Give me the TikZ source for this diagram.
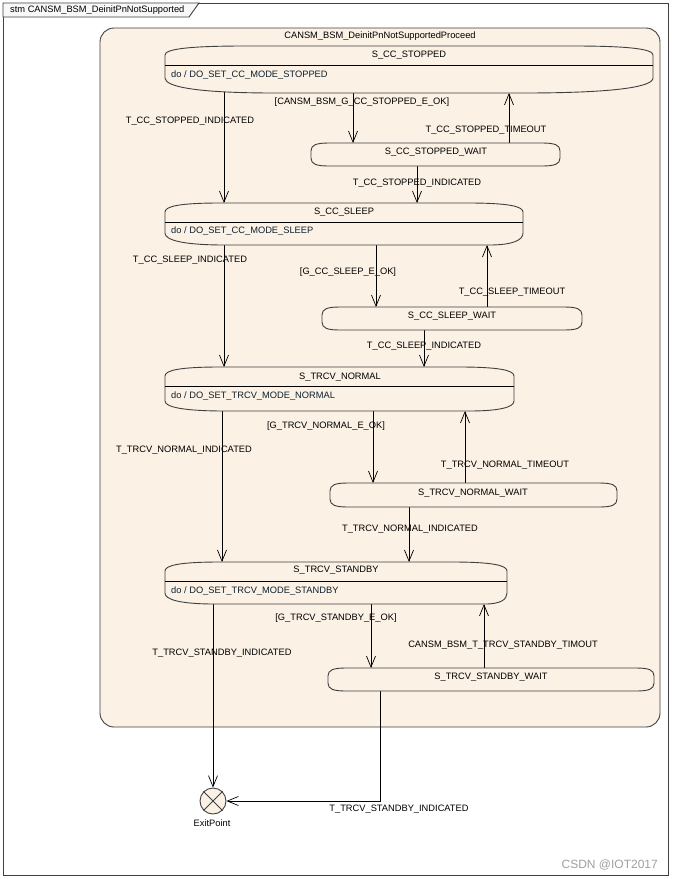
\documentclass[tikz,border=0pt]{standalone}
\usepackage{fontspec}
\setmainfont{Liberation Sans}
\usetikzlibrary{arrows.meta,calc}
\definecolor{compfill}{RGB}{251,241,228}
\definecolor{edgec}{RGB}{64,64,64}
\definecolor{dotext}{RGB}{12,32,48}
\definecolor{tabfill}{RGB}{248,248,248}
\definecolor{wmark}{RGB}{160,160,160}
\pgfdeclarelayer{back}\pgfdeclarelayer{mid}\pgfdeclarelayer{shapes}
\pgfsetlayers{back,mid,shapes,main}
\newcommand\dfont{\fontsize{9.3}{11}\selectfont}
\tikzset{
 lbl/.style={font=\dfont, inner sep=0pt, text=black},
 dolbl/.style={font=\dfont, inner sep=0pt, text=dotext, anchor=west},
 tr/.style={draw=black, line width=0.7pt, -{Straight Barb[length=11pt,width=9pt,line width=0.7pt]}},
 stnode/.style={inner sep=0pt, outer sep=0pt, draw=none, rectangle},
 stline/.style={draw=edgec, line width=0.9pt, fill=compfill},
 sepline/.style={draw=black, line width=0.7pt},
}
\newcommand\bigshape[5]{%
\begin{pgfonlayer}{shapes}
\path[stline] let \p1=(#1.north west), \p2=(#1.south east) in
 (\x1,\y1-9pt) .. controls (\x1,\y1-3pt) and (\x1+0.3*#2,\y1) .. (\x1+#2,\y1)
 -- (\x2-#2,\y1) .. controls (\x2-0.3*#2,\y1) and (\x2,\y1-3pt) .. (\x2,\y1-9pt)
 -- (\x2,\y2+#5) .. controls (\x2,\y2+0.4*#5) and (\x2-0.3*#4,\y2) .. (\x2-#4,\y2)
 -- (\x1+#3,\y2) .. controls (\x1+0.3*#3,\y2) and (\x1,\y2+0.4*#5) .. (\x1,\y2+#5) -- cycle;
\end{pgfonlayer}}
\newcommand\waitshape[1]{%
\begin{pgfonlayer}{shapes}
\path[stline] let \p1=(#1.north west), \p2=(#1.south east) in
 (\x1,\y1-8pt) .. controls (\x1,\y1-2pt) and (\x1+5pt,\y1) .. (\x1+18pt,\y1)
 -- (\x2-18pt,\y1) .. controls (\x2-5pt,\y1) and (\x2,\y1-2pt) .. (\x2,\y1-8pt)
 -- (\x2,\y2+8pt) .. controls (\x2,\y2+2pt) and (\x2-5pt,\y2) .. (\x2-18pt,\y2)
 -- (\x1+18pt,\y2) .. controls (\x1+5pt,\y2) and (\x1,\y2+2pt) .. (\x1,\y2+8pt) -- cycle;
\end{pgfonlayer}}
\begin{document}
\begin{tikzpicture}[x=1pt,y=-1pt]
\useasboundingbox (0,0) rectangle (673,879);
% frame, tab, composite
\begin{pgfonlayer}{back}
\fill[white] (0,0) rectangle (673,879);
\draw[edgec, line width=0.9pt] (3,3) rectangle (668,875);
\draw[edgec, line width=0.9pt, fill=tabfill] (3,3) -- (199,3) -- (189,17) -- (3,17) -- cycle;
\draw[edgec, line width=0.9pt, fill=compfill, rounded corners=14pt] (100,28) rectangle (660,727);
\end{pgfonlayer}
\node[lbl, anchor=west] (frametitle) at (10,10) {stm CANSM\_BSM\_DeinitPnNotSupported};
\node[lbl] (comptitle) at (380,36) {CANSM\_BSM\_DeinitPnNotSupportedProceed};
% state nodes
\node[stnode, minimum width=488pt, minimum height=47pt] (stopped) at (409,69.5) {};
\node[stnode, minimum width=358pt, minimum height=42pt] (sleep) at (344,224) {};
\node[stnode, minimum width=349pt, minimum height=44pt] (normal) at (339.5,389) {};
\node[stnode, minimum width=342pt, minimum height=42pt] (standby) at (336,583) {};
\node[stnode, minimum width=249pt, minimum height=23pt] (wstopped) at (435.5,154.5) {};
\node[stnode, minimum width=260pt, minimum height=23pt] (wsleep) at (452,318.5) {};
\node[stnode, minimum width=287pt, minimum height=24pt] (wnormal) at (473.5,495) {};
\node[stnode, minimum width=326pt, minimum height=23pt] (wstandby) at (491,679.5) {};
\node[circle, draw=edgec, line width=0.9pt, fill=compfill, minimum size=26pt, inner sep=0pt] (exit) at (213,801) {};
\draw[edgec, line width=0.8pt] (exit.north west) -- (exit.south east) (exit.north east) -- (exit.south west);
% shapes
\bigshape{stopped}{80pt}{110pt}{130pt}{15pt}
\bigshape{sleep}{55pt}{60pt}{34pt}{12pt}
\bigshape{normal}{55pt}{60pt}{45pt}{10pt}
\bigshape{standby}{55pt}{50pt}{22pt}{11pt}
\waitshape{wstopped}
\waitshape{wsleep}
\waitshape{wnormal}
\waitshape{wstandby}
% state texts
\node[lbl] (tstopped) at (409,55) {S\_CC\_STOPPED};
\draw[sepline] (stopped.west |- 0,65) -- (stopped.east |- 0,65);
\node[dolbl] (dstopped) at (171,75) {do / DO\_SET\_CC\_MODE\_STOPPED};
\node[lbl] (tsleep) at (344,212) {S\_CC\_SLEEP};
\draw[sepline] (sleep.west |- 0,222) -- (sleep.east |- 0,222);
\node[dolbl] (dsleep) at (171,231) {do / DO\_SET\_CC\_MODE\_SLEEP};
\node[lbl] (tnormal) at (340,377) {S\_TRCV\_NORMAL};
\draw[sepline] (normal.west |- 0,386) -- (normal.east |- 0,386);
\node[dolbl] (dnormal) at (171,396) {do / DO\_SET\_TRCV\_MODE\_NORMAL};
\node[lbl] (tstandby) at (336,570) {S\_TRCV\_STANDBY};
\draw[sepline] (standby.west |- 0,581) -- (standby.east |- 0,581);
\node[dolbl] (dstandby) at (171,591) {do / DO\_SET\_TRCV\_MODE\_STANDBY};
\node[lbl] (twstopped) at (436,152) {S\_CC\_STOPPED\_WAIT};
\node[lbl] (twsleep) at (452,316.5) {S\_CC\_SLEEP\_WAIT};
\node[lbl] (twnormal) at (473,493) {S\_TRCV\_NORMAL\_WAIT};
\node[lbl] (twstandby) at (491,677.5) {S\_TRCV\_STANDBY\_WAIT};
\node[lbl] (texit) at (212,823) {ExitPoint};
% x positions of connectors
\coordinate (c1) at (353,0);
\coordinate (c2) at (509,0);
\coordinate (c3) at (417,0);
\coordinate (c4) at (224,0);
\coordinate (c5) at (376,0);
\coordinate (c6) at (487,0);
\coordinate (c7) at (424,0);
\coordinate (c8) at (373,0);
\coordinate (c9) at (465,0);
\coordinate (c10) at (409,0);
\coordinate (c11) at (222,0);
\coordinate (c12) at (371,0);
\coordinate (c13) at (484,0);
\coordinate (c15) at (380,0);
\begin{pgfonlayer}{mid}
\draw[tr] (stopped.center -| c1) -- (wstopped.north -| c1);
\draw[tr] (wstopped.center -| c2) -- (stopped.south -| c2);
\draw[tr] (wstopped.center -| c3) -- (sleep.north -| c3);
\draw[tr] (stopped.center -| c4) -- (sleep.north -| c4);
\draw[tr] (sleep.center -| c5) -- (wsleep.north -| c5);
\draw[tr] (wsleep.center -| c6) -- (sleep.south -| c6);
\draw[tr] (wsleep.center -| c7) -- (normal.north -| c7);
\draw[tr] (sleep.center -| c4) -- (normal.north -| c4);
\draw[tr] (normal.center -| c8) -- (wnormal.north -| c8);
\draw[tr] (wnormal.center -| c9) -- (normal.south -| c9);
\draw[tr] (wnormal.center -| c10) -- (standby.north -| c10);
\draw[tr] (normal.center -| c11) -- (standby.north -| c11);
\draw[tr] (standby.center -| c12) -- (wstandby.north -| c12);
\draw[tr] (wstandby.center -| c13) -- (standby.south -| c13);
\draw[tr] (standby.center -| exit) -- (exit.north);
\draw[tr] (wstandby.center -| c15) |- (exit.east);
\end{pgfonlayer}
% connector labels
\node[lbl] (l1) at (362,102) {[CANSM\_BSM\_G\_CC\_STOPPED\_E\_OK]};
\node[lbl] (l2) at (486,130) {T\_CC\_STOPPED\_TIMEOUT};
\node[lbl] (l3) at (417,183) {T\_CC\_STOPPED\_INDICATED};
\node[lbl] (l4) at (190,121) {T\_CC\_STOPPED\_INDICATED};
\node[lbl] (l5) at (190,260) {T\_CC\_SLEEP\_INDICATED};
\node[lbl] (l6) at (348,272) {[G\_CC\_SLEEP\_E\_OK]};
\node[lbl] (l7) at (512,292) {T\_CC\_SLEEP\_TIMEOUT};
\node[lbl] (l8) at (424,346) {T\_CC\_SLEEP\_INDICATED};
\node[lbl] (l9) at (326,426) {[G\_TRCV\_NORMAL\_E\_OK]};
\node[lbl] (l10) at (184,450) {T\_TRCV\_NORMAL\_INDICATED};
\node[lbl] (l11) at (505,465) {T\_TRCV\_NORMAL\_TIMEOUT};
\node[lbl] (l12) at (410,529) {T\_TRCV\_NORMAL\_INDICATED};
\node[lbl] (l13) at (336,618) {[G\_TRCV\_STANDBY\_E\_OK]};
\node[lbl] (l14) at (222,653) {T\_TRCV\_STANDBY\_INDICATED};
\node[lbl] (l15) at (503,645) {CANSM\_BSM\_T\_TRCV\_STANDBY\_TIMOUT};
\node[lbl] (l16) at (399,809) {T\_TRCV\_STANDBY\_INDICATED};
\node[font=\fontsize{12}{14}\selectfont, text=wmark, anchor=east, inner sep=0pt] (wm) at (658,865) {CSDN @IOT2017};
\end{tikzpicture}
\end{document}
